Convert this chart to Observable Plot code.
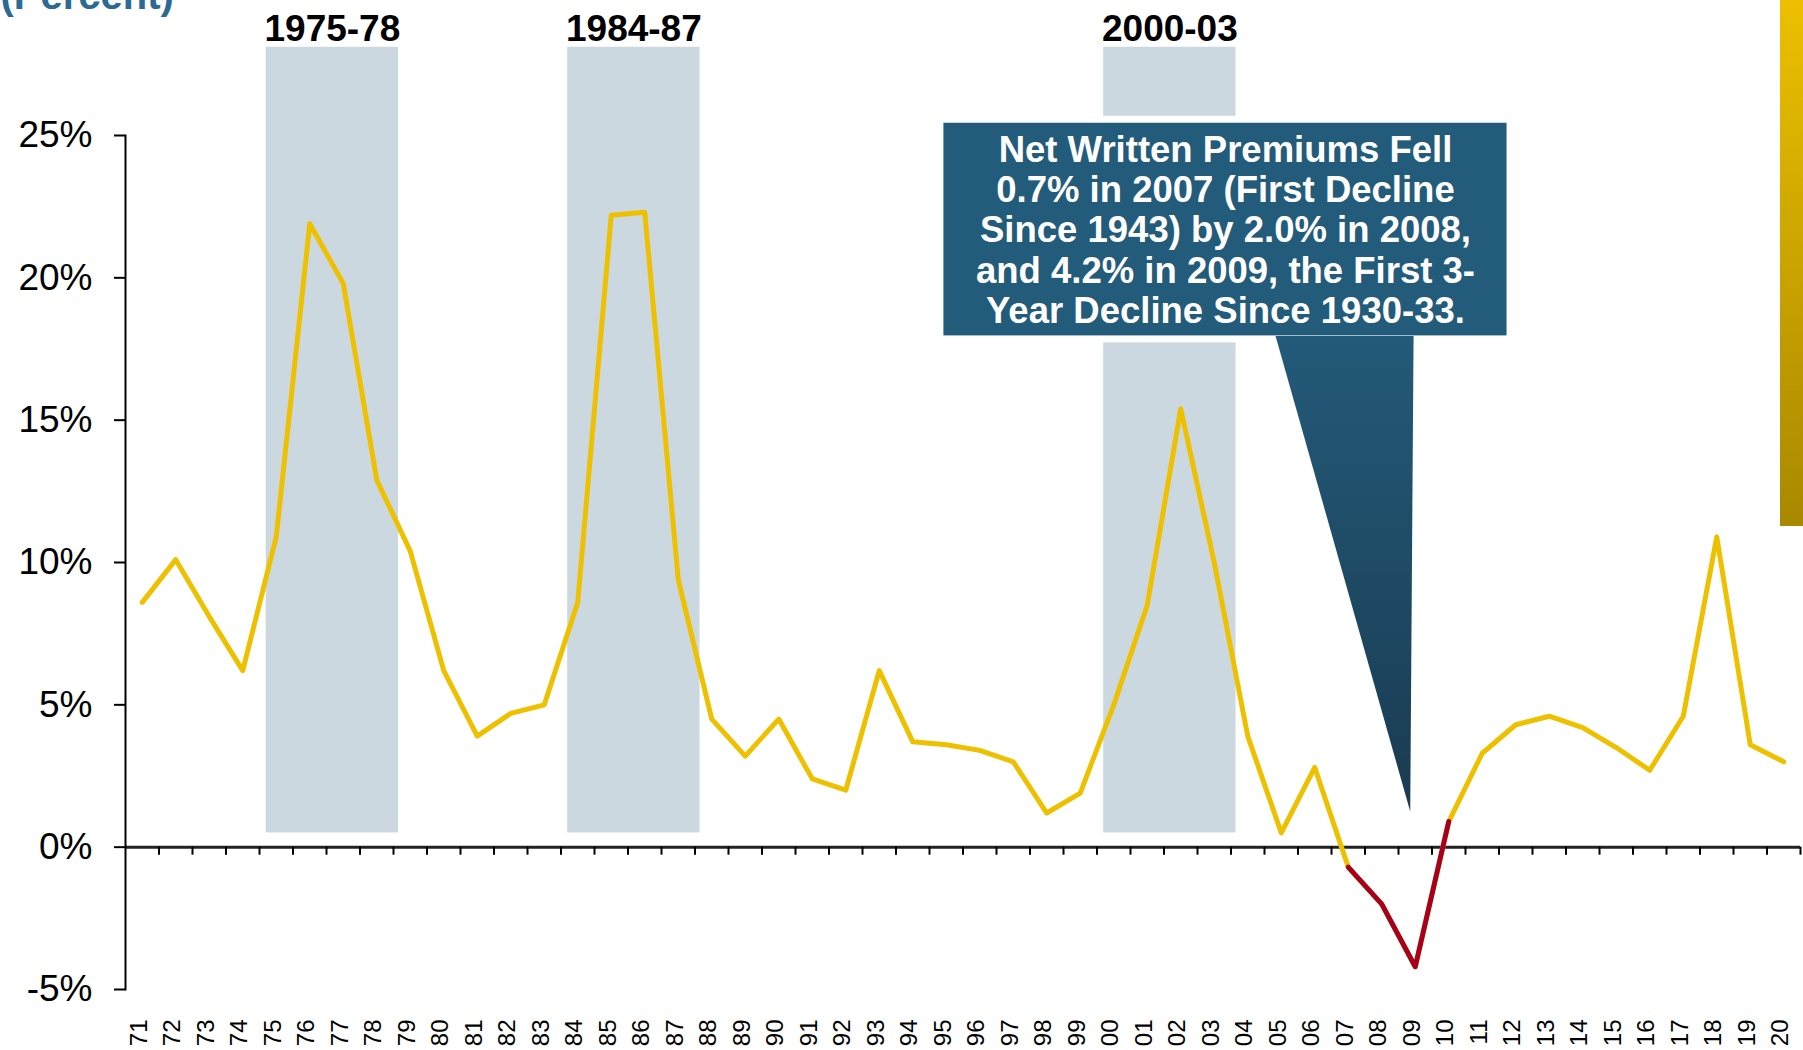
<!DOCTYPE html>
<html><head><meta charset="utf-8">
<script src="https://cdn.jsdelivr.net/npm/d3@7"></script>
<script src="https://cdn.jsdelivr.net/npm/@observablehq/plot@0.6"></script>
<style>
html,body{margin:0;padding:0;background:#fff;overflow:hidden}
#wrap{position:relative;width:1803px;height:1050px}
#goldbar{position:absolute;left:1780px;top:0;width:23px;height:526px;background:linear-gradient(#ECC000,#A88800)}
</style></head><body><div id="wrap"><div id="chart"></div><div id="goldbar"></div></div>
<script>
// ---- data ----
const years = [1971,1972,1973,1974,1975,1976,1977,1978,1979,1980,
  1981,1982,1983,1984,1985,1986,1987,1988,1989,1990,
  1991,1992,1993,1994,1995,1996,1997,1998,1999,2000,
  2001,2002,2003,2004,2005,2006,2007,2008,2009,2010,
  2011,2012,2013,2014,2015,2016,2017,2018,2019,2020];
const growth = [8.6,10.1,8.1,6.2,10.9,21.9,19.8,12.9,10.4,6.2,
  3.9,4.7,5.0,8.6,22.2,22.3,9.4,4.5,3.2,4.5,
  2.4,2.0,6.2,3.7,3.6,3.4,3.0,1.2,1.9,5.0,
  8.5,15.4,10.0,3.9,0.5,2.8,-0.7,-2.0,-4.2,0.9,
  3.3,4.3,4.6,4.2,3.5,2.7,4.6,10.9,3.6,3.0];
const declineYears = [2007,2008,2009,2010];
const periodLabels = ["1975-78","1984-87","2000-03"];
const periodStart = [1975,1984,2000];
const periodEnd = [1978,1987,2003];
const yTicks = [-5,0,5,10,15,20,25];
const unitLabel = "(Percent)";
const calloutText = "Net Written Premiums Fell\n0.7% in 2007 (First Decline\nSince 1943) by 2.0% in 2008,\nand 4.2% in 2009, the First 3-\nYear Decline Since 1930-33.";

// ---- tables ----
const series = years.map((year, i) => ({year, value: growth[i]}));
const decline = series.filter(d => declineYears.includes(d.year));
const periods = periodLabels.map((label, i) => ({label, from: periodStart[i], to: periodEnd[i]}));
const boundaries = years.map(y => y + 0.5);

// annotation geometry (in data units)
const bandTop = 28.1, bandBottom = 0.5;
const box = {x1: 1994.93, x2: 2011.74, y1: 17.96, y2: 25.43};
const pointer = [{x: 2004.83, y: 17.96}, {x: 2008.95, y: 17.96}, {x: 2008.85, y: 1.25}];

const YELLOW = "#EEC100", RED = "#A6001E", BLUE = "#235B7A", BAND = "#CCD8E0";

const chart = Plot.plot({
  width: 1803, height: 1050,
  marginLeft: 125, marginRight: 3, marginTop: 135, marginBottom: 61,
  style: {fontFamily: "'Liberation Sans', Arial, sans-serif", background: "white", color: "black", overflow: "visible"},
  x: {type: "linear", domain: [years[0] - 0.5, years[years.length - 1] + 0.5]},
  y: {domain: [-5, 25]},
  marks: [
    Plot.rect(periods, {x1: d => d.from - 0.3, x2: d => d.to + 0.65, y1: bandBottom, y2: bandTop, fill: BAND}),
    Plot.text(periods, {x: d => (d.from - 0.3 + d.to + 0.65) / 2, y: bandTop, text: "label", fontSize: 37, fontWeight: "bold", lineAnchor: "bottom", dy: -6, fill: "black"}),
    Plot.ruleY([0], {stroke: "#222", strokeWidth: 3}),
    Plot.ruleX(boundaries, {x: d => d, y1: 0, y2: 0, insetBottom: -8, stroke: "black", strokeWidth: 2}),
    Plot.frame({anchor: "left", stroke: "black", strokeWidth: 2}),
    Plot.axisY({ticks: yTicks, tickFormat: d => d + "%", tickSize: 11, tickPadding: 22, fontSize: 37, strokeWidth: 2, label: null}),
    Plot.axisX({ticks: years, tickFormat: d => String(d).slice(2), tickRotate: -90, tickSize: 0, tickPadding: 30, fontSize: 24, dx: -3, label: null}),
    Plot.line(series, {x: "year", y: "value", stroke: YELLOW, strokeWidth: 5, strokeLinejoin: "round"}),
    Plot.line(decline, {x: "year", y: "value", stroke: RED, strokeWidth: 5, strokeLinejoin: "round"}),
    Plot.rect([box], {x1: "x1", x2: "x2", y1: "y1", y2: "y2", fill: BLUE, stroke: "white", strokeWidth: 14}),
    Plot.rect([box], {x1: "x1", x2: "x2", y1: "y1", y2: "y2", fill: BLUE}),
    Plot.line(pointer, {x: "x", y: "y", fill: "url(#ptrGrad)", stroke: "none", curve: "linear"}),
    Plot.text([calloutText], {x: (box.x1 + box.x2) / 2, y: (box.y1 + box.y2) / 2, text: d => d, fill: "white", fontSize: 36.5, fontWeight: "bold", lineHeight: 1.1, lineAnchor: "middle"}),
    Plot.text([unitLabel], {frameAnchor: "top-left", text: d => d, dx: -125, dy: -127, fontSize: 40, fontWeight: "bold", fill: "#2B6A92", textAnchor: "start", lineAnchor: "bottom"})
  ]
});

const ns = "http://www.w3.org/2000/svg";
const defs = document.createElementNS(ns, "defs");
defs.innerHTML = '<linearGradient id="ptrGrad" x1="0" y1="0" x2="0" y2="1"><stop offset="0" stop-color="#235A79"/><stop offset="1" stop-color="#1A3B51"/></linearGradient>';
chart.insertBefore(defs, chart.firstChild);
document.getElementById("chart").appendChild(chart);
</script>
</body></html>
